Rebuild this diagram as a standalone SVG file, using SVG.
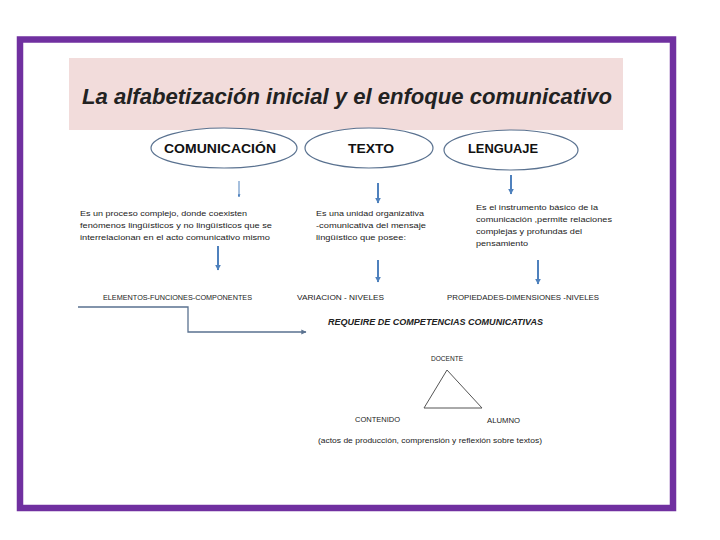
<svg xmlns="http://www.w3.org/2000/svg" width="720" height="540" viewBox="0 0 720 540">
<style>
.t{font-family:"Liberation Sans",Arial,sans-serif;fill:#222}
.sm{font-size:7px}
.lb{font-size:6.5px}
.ell{fill:#fff;stroke:#5a7290;stroke-width:1.2}
.hd{font-family:"Liberation Sans",Arial,sans-serif;font-weight:bold;font-size:12px;fill:#111}
.ar{stroke:#4f81bd;fill:none}
</style>
<defs>
<marker id="ah" viewBox="0 0 10 10" refX="9" refY="5" markerWidth="3" markerHeight="3" orient="auto">
<path d="M0,0 L10,5 L0,10 z" fill="#4f81bd"/>
</marker>
<marker id="ah2" viewBox="0 0 10 10" refX="9" refY="5" markerWidth="4" markerHeight="4" orient="auto">
<path d="M0,0 L10,5 L0,10 z" fill="#5a7290"/>
</marker>
</defs>
<rect width="720" height="540" fill="#fff"/>
<rect x="20" y="39.5" width="653" height="468.5" fill="none" stroke="#7030a0" stroke-width="6.5"/>
<g id="title">
<rect x="69" y="58" width="554" height="72" fill="#f2dcdb"/>
<text x="82" y="104" class="t" style="font-size:22px;font-weight:bold;font-style:italic" fill="#111" textLength="530" lengthAdjust="spacingAndGlyphs">La alfabetización inicial y el enfoque comunicativo</text>
</g>
<g id="comunicacion">
<ellipse cx="224" cy="148" rx="73" ry="20" class="ell"/>
<text x="220" y="153" class="hd" text-anchor="middle" textLength="112" lengthAdjust="spacingAndGlyphs">COMUNICACIÓN</text>
</g>
<g id="texto">
<ellipse cx="369" cy="148" rx="64" ry="20" class="ell"/>
<text x="371" y="153" class="hd" text-anchor="middle" textLength="46" lengthAdjust="spacingAndGlyphs">TEXTO</text>
</g>
<g id="lenguaje">
<ellipse cx="511" cy="150" rx="67" ry="20" class="ell"/>
<text x="503" y="153" class="hd" text-anchor="middle" textLength="70" lengthAdjust="spacingAndGlyphs">LENGUAJE</text>
</g>
<g id="desc-comunicacion">
<text class="t sm"><tspan x="80" y="216" textLength="167" lengthAdjust="spacingAndGlyphs">Es un proceso complejo, donde coexisten</tspan><tspan x="80" y="228" textLength="192" lengthAdjust="spacingAndGlyphs">fenómenos lingüísticos y no lingüísticos que se</tspan><tspan x="80" y="240" textLength="190" lengthAdjust="spacingAndGlyphs">interrelacionan en el acto comunicativo mismo</tspan></text>
</g>
<g id="desc-texto">
<text class="t sm"><tspan x="316" y="216" textLength="108" lengthAdjust="spacingAndGlyphs">Es una unidad organizativa</tspan><tspan x="316" y="228" textLength="110" lengthAdjust="spacingAndGlyphs">-comunicativa del mensaje</tspan><tspan x="316" y="240" textLength="90" lengthAdjust="spacingAndGlyphs">lingüístico que posee:</tspan></text>
</g>
<g id="desc-lenguaje">
<text class="t sm"><tspan x="476" y="210" textLength="122" lengthAdjust="spacingAndGlyphs">Es el instrumento básico  de la</tspan><tspan x="476" y="222" textLength="136" lengthAdjust="spacingAndGlyphs">comunicación ,permite relaciones</tspan><tspan x="476" y="234" textLength="106" lengthAdjust="spacingAndGlyphs">complejas y profundas del</tspan><tspan x="476" y="246" textLength="52" lengthAdjust="spacingAndGlyphs">pensamiento</tspan></text>
</g>
<g id="lbl-elementos"><text x="103" y="300" class="t lb" textLength="149" lengthAdjust="spacingAndGlyphs">ELEMENTOS-FUNCIONES-COMPONENTES</text></g>
<g id="lbl-variacion"><text x="297" y="300" class="t lb" textLength="87" lengthAdjust="spacingAndGlyphs">VARIACION - NIVELES</text></g>
<g id="lbl-propiedades"><text x="447" y="300" class="t lb" textLength="152" lengthAdjust="spacingAndGlyphs">PROPIEDADES-DIMENSIONES -NIVELES</text></g>
<g id="requiere"><text x="328" y="325" class="t" style="font-size:8.5px;font-weight:bold;font-style:italic" textLength="215" lengthAdjust="spacingAndGlyphs">REQUEIRE DE  COMPETENCIAS COMUNICATIVAS</text></g>
<g id="triangulo">
<polygon points="447,370 424,408 482,408" fill="none" stroke="#555" stroke-width="1"/>
<text x="447" y="361" class="t lb" text-anchor="middle" textLength="32" lengthAdjust="spacingAndGlyphs">DOCENTE</text>
<text x="355" y="422" class="t lb" textLength="45" lengthAdjust="spacingAndGlyphs">CONTENIDO</text>
<text x="487" y="423" class="t lb" textLength="33" lengthAdjust="spacingAndGlyphs">ALUMNO</text>
<text x="318" y="443" class="t lb" textLength="224" lengthAdjust="spacingAndGlyphs">(actos de producción, comprensión y reflexión sobre textos)</text>
</g>
<g id="connectors">
<line x1="239" y1="181" x2="239" y2="197" class="ar" stroke-width="1" marker-end="url(#ah)"/>
<line x1="378" y1="183" x2="378" y2="203" class="ar" stroke-width="2" marker-end="url(#ah)"/>
<line x1="511" y1="175" x2="511" y2="194" class="ar" stroke-width="2" marker-end="url(#ah)"/>
<line x1="218" y1="246" x2="218" y2="270" class="ar" stroke-width="2" marker-end="url(#ah)"/>
<line x1="378" y1="260" x2="378" y2="282" class="ar" stroke-width="2" marker-end="url(#ah)"/>
<line x1="538" y1="260" x2="538" y2="284" class="ar" stroke-width="2" marker-end="url(#ah)"/>
<polyline points="78,307 188,307 188,332 306,332" fill="none" stroke="#5a7290" stroke-width="1.3" marker-end="url(#ah2)"/>
</g>
</svg>
